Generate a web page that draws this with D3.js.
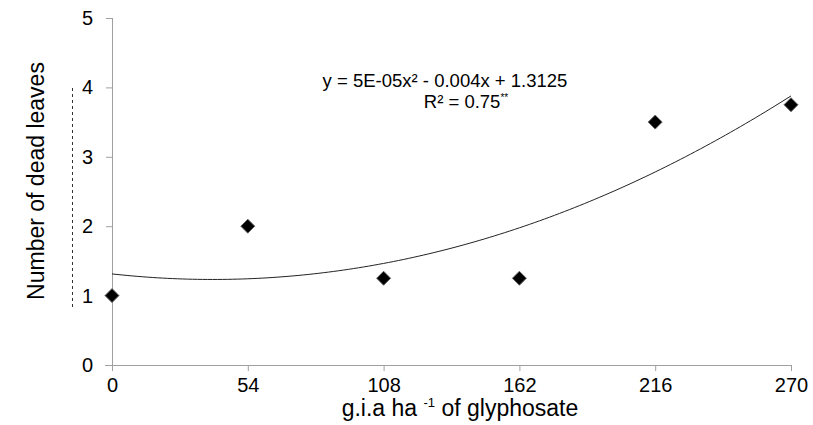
<!DOCTYPE html>
<meta charset="utf-8">
<head>
<script src="https://d3js.org/d3.v7.min.js"></script>
<style>
  body { margin: 0; background: #fff; }
  text { font-family: "Liberation Sans", Arial, sans-serif; fill: #000; }
</style>
</head>
<body>
<svg id="chart" width="813" height="425"></svg>
<script>
// observed values
var doses = [0, 54, 108, 162, 216, 270];
var deadLeaves = [1, 2, 1.25, 1.25, 3.5, 3.75];
var yTicks = [0, 1, 2, 3, 4, 5];
// fitted quadratic y = a x^2 + b x + c
var coef = { a: 5e-05, b: -0.004, c: 1.3125 };

var svg = d3.select("#chart");

var x = d3.scaleLinear().domain([0, 270]).range([112, 791]);
var y = d3.scaleLinear().domain([0, 5]).range([365, 18]);

// y axis
var yAxis = svg.append("g")
  .attr("transform", "translate(112,0)")
  .call(d3.axisLeft(y).tickValues(yTicks).tickSize(6).tickPadding(13).tickFormat(d3.format("d")));
yAxis.selectAll("text").style("font-size", "20px");

// x axis
var xAxis = svg.append("g")
  .attr("transform", "translate(0,365)")
  .call(d3.axisBottom(x).tickValues(doses).tickSize(6).tickPadding(7).tickFormat(d3.format("d")));
xAxis.selectAll("text").style("font-size", "20px");

svg.selectAll(".domain, .tick line").attr("stroke", "#a0a0a0");
xAxis.select(".domain").attr("d", "M105,0.5H791.5");
yAxis.select(".domain").attr("d", "M0.5,18V365.5");

// stray dashed line at the left
svg.append("line")
  .attr("x1", 72.5).attr("x2", 72.5)
  .attr("y1", 88).attr("y2", 308)
  .attr("stroke", "#333").attr("stroke-width", 1)
  .attr("stroke-dasharray", "3,3");

// trend line
var curve = d3.range(0, 270.5, 2).map(function(d) {
  return [d, coef.a * d * d + coef.b * d + coef.c];
});
svg.append("path")
  .datum(curve)
  .attr("fill", "none")
  .attr("stroke", "#222")
  .attr("stroke-width", 1)
  .attr("d", d3.line().x(function(d) { return x(d[0]); }).y(function(d) { return y(d[1]); }));

// points
svg.selectAll(".pt")
  .data(doses)
  .enter().append("path")
  .attr("class", "pt")
  .attr("transform", function(d, i) { return "translate(" + x(d) + "," + y(deadLeaves[i]) + ")"; })
  .attr("d", "M0,-7L7,0L0,7L-7,0Z")
  .attr("fill", "#000")
  .attr("stroke", "#666")
  .attr("stroke-width", 1);

// equation
svg.append("text")
  .attr("x", 445).attr("y", 87)
  .attr("text-anchor", "middle")
  .style("font-size", "18.5px")
  .html("y = 5E-05x² - 0.004x + 1.3125");
svg.append("text")
  .attr("x", 466).attr("y", 108)
  .attr("text-anchor", "middle")
  .style("font-size", "18.5px")
  .html('R² = 0.75<tspan dy="-7" style="font-size:10px">**</tspan>');

// axis titles
svg.append("text")
  .attr("transform", "translate(44,181) rotate(-90)")
  .attr("text-anchor", "middle")
  .style("font-size", "23px")
  .text("Number of dead leaves");

svg.append("text")
  .attr("x", 460).attr("y", 416)
  .attr("text-anchor", "middle")
  .style("font-size", "23px")
  .html('g.i.a ha <tspan dy="-9" style="font-size:13px">-1</tspan><tspan dy="9"> of glyphosate</tspan>');
</script>
</body>
